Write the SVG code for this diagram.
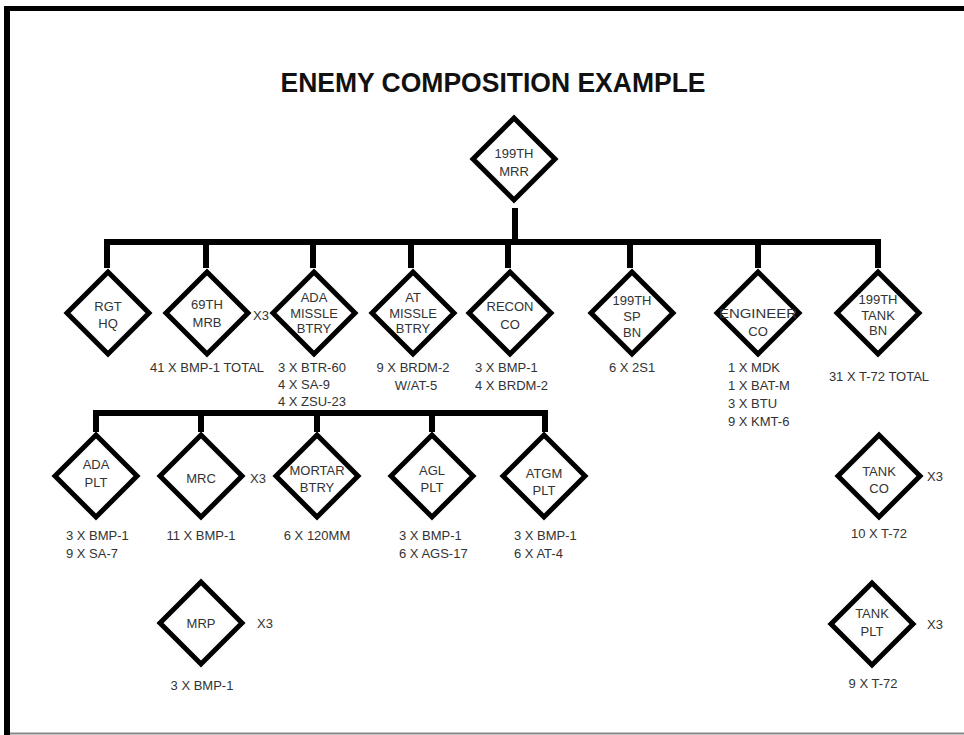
<svg xmlns="http://www.w3.org/2000/svg" width="964" height="735" viewBox="0 0 964 735">
<style>
.t{font-family:"Liberation Sans",Arial,sans-serif;font-size:13px;fill:#333}
.m{text-anchor:middle}
.d{fill:#fff;stroke:#000;stroke-width:5;stroke-linejoin:miter}
.c{stroke:#000;stroke-width:6;fill:none;stroke-linecap:butt}
</style>
<defs>
<path id="dia" d="M0,-41 L41,0 L0,41 L-41,0 Z"/>
</defs>
<rect x="0" y="0" width="964" height="735" fill="#fff"/>
<g id="frame">
<rect x="4" y="6" width="960" height="5" fill="#000"/>
<rect x="4" y="6" width="6" height="729" fill="#000"/>
<line x1="10" y1="733.5" x2="964" y2="733.5" stroke="#888" stroke-width="2"/>
</g>
<text x="493" y="92" style="font-family:'Liberation Sans',Arial,sans-serif;font-size:27px;font-weight:bold;fill:#111" text-anchor="middle" textLength="425" lengthAdjust="spacingAndGlyphs">ENEMY COMPOSITION EXAMPLE</text>
<g id="connectors">
<line class="c" x1="515" y1="208" x2="515" y2="242"/>
<path class="c" d="M107,268 V242 H878 V268"/>
<line class="c" x1="206" y1="242" x2="206" y2="268"/>
<line class="c" x1="313" y1="242" x2="313" y2="268"/>
<line class="c" x1="411" y1="242" x2="411" y2="268"/>
<line class="c" x1="508" y1="242" x2="508" y2="268"/>
<line class="c" x1="630" y1="242" x2="630" y2="268"/>
<line class="c" x1="758" y1="242" x2="758" y2="268"/>
<path class="c" d="M96,432 V413 H545 V432"/>
<line class="c" x1="201" y1="413" x2="201" y2="432"/>
<line class="c" x1="317" y1="413" x2="317" y2="432"/>
<line class="c" x1="432" y1="413" x2="432" y2="432"/>
</g>
<g id="n-mrr" transform="translate(514,159)">
<use href="#dia" class="d"/>
<text class="t m" y="-1">199TH</text><text class="t m" y="17">MRR</text>
</g>
<g id="n-rgthq" transform="translate(108,313)">
<use href="#dia" class="d"/>
<text class="t m" y="-2">RGT</text><text class="t m" y="15">HQ</text>
</g>
<g id="n-mrb" transform="translate(207,313)">
<use href="#dia" class="d"/>
<text class="t m" y="-4">69TH</text><text class="t m" y="14">MRB</text>
<text class="t" x="46" y="7">X3</text>
<text class="t m" y="59">41 X BMP-1 TOTAL</text>
</g>
<g id="n-ada" transform="translate(314,313)">
<use href="#dia" class="d"/>
<text class="t m" y="-11">ADA</text><text class="t m" y="5">MISSLE</text><text class="t m" y="20">BTRY</text>
<text class="t" x="-36" y="59">3 X BTR-60</text>
<text class="t" x="-36" y="76">4 X SA-9</text>
<text class="t" x="-36" y="93">4 X ZSU-23</text>
</g>
<g id="n-at" transform="translate(413,313)">
<use href="#dia" class="d"/>
<text class="t m" y="-11">AT</text><text class="t m" y="5">MISSLE</text><text class="t m" y="20">BTRY</text>
<text class="t m" y="59">9 X BRDM-2</text>
<text class="t m" x="3" y="77">W/AT-5</text>
</g>
<g id="n-recon" transform="translate(510,313)">
<use href="#dia" class="d"/>
<text class="t m" y="-2">RECON</text><text class="t m" y="16">CO</text>
<text class="t" x="-35" y="59">3 X BMP-1</text>
<text class="t" x="-35" y="77">4 X BRDM-2</text>
</g>
<g id="n-sp" transform="translate(632,313)">
<use href="#dia" class="d"/>
<text class="t m" y="-8">199TH</text><text class="t m" y="8">SP</text><text class="t m" y="24">BN</text>
<text class="t m" y="59">6 X 2S1</text>
</g>
<g id="n-eng" transform="translate(758,313)">
<use href="#dia" class="d"/>
<text class="t m" y="5" textLength="78" lengthAdjust="spacingAndGlyphs">ENGINEER</text><text class="t m" y="23">CO</text>
<text class="t" x="-30" y="59">1 X MDK</text>
<text class="t" x="-30" y="77">1 X BAT-M</text>
<text class="t" x="-30" y="95">3 X BTU</text>
<text class="t" x="-30" y="113">9 X KMT-6</text>
</g>
<g id="n-tankbn" transform="translate(878,313)">
<use href="#dia" class="d"/>
<text class="t m" y="-9">199TH</text><text class="t m" y="7">TANK</text><text class="t m" y="22">BN</text>
<text class="t m" x="1" y="68">31 X T-72 TOTAL</text>
</g>
<g id="n-adaplt" transform="translate(96,476)">
<use href="#dia" class="d"/>
<text class="t m" y="-7">ADA</text><text class="t m" y="11">PLT</text>
<text class="t" x="-30" y="64">3 X BMP-1</text>
<text class="t" x="-30" y="82">9 X SA-7</text>
</g>
<g id="n-mrc" transform="translate(201,476)">
<use href="#dia" class="d"/>
<text class="t m" y="7">MRC</text>
<text class="t" x="49" y="7">X3</text>
<text class="t m" y="64">11 X BMP-1</text>
</g>
<g id="n-mortar" transform="translate(317,476)">
<use href="#dia" class="d"/>
<text class="t m" y="-1">MORTAR</text><text class="t m" y="16">BTRY</text>
<text class="t m" y="64">6 X 120MM</text>
</g>
<g id="n-agl" transform="translate(432,476)">
<use href="#dia" class="d"/>
<text class="t m" y="-1">AGL</text><text class="t m" y="16">PLT</text>
<text class="t" x="-33" y="64">3 X BMP-1</text>
<text class="t" x="-33" y="82">6 X AGS-17</text>
</g>
<g id="n-atgm" transform="translate(544,476)">
<use href="#dia" class="d"/>
<text class="t m" y="2">ATGM</text><text class="t m" y="19">PLT</text>
<text class="t" x="-30" y="64">3 X BMP-1</text>
<text class="t" x="-30" y="82">6 X AT-4</text>
</g>
<g id="n-mrp" transform="translate(201,623)">
<use href="#dia" class="d"/>
<text class="t m" y="5">MRP</text>
<text class="t" x="56" y="5">X3</text>
<text class="t m" x="1" y="67">3 X BMP-1</text>
</g>
<g id="n-tankco" transform="translate(879,476)">
<use href="#dia" class="d"/>
<text class="t m" y="0">TANK</text><text class="t m" y="17">CO</text>
<text class="t" x="48" y="5">X3</text>
<text class="t m" y="62">10 X T-72</text>
</g>
<g id="n-tankplt" transform="translate(872,624)">
<use href="#dia" class="d"/>
<text class="t m" y="-6">TANK</text><text class="t m" y="12">PLT</text>
<text class="t" x="55" y="5">X3</text>
<text class="t m" x="1" y="64">9 X T-72</text>
</g>
</svg>
